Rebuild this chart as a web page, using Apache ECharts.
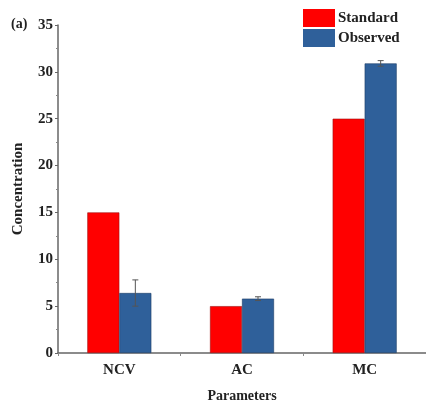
<!DOCTYPE html>
<html><head><meta charset="utf-8">
<script src="https://cdn.jsdelivr.net/npm/echarts@6/dist/echarts.min.js"></script>
<style>html,body{margin:0;padding:0;background:#fff}#c{width:426px;height:408px}</style>
</head><body><div id="c"></div>
<script>
const categories = ['NCV', 'AC', 'MC'];
const standardValues = [15, 5, 25];
const observedValues = [6.4, 5.8, 30.9];
const observedErrors = [1.4, 0.2, 0.3];
const yTicks = [0, 5, 10, 15, 20, 25, 30, 35];

const FONT = '"Liberation Serif", "Times New Roman", serif';
const chart = echarts.init(document.getElementById('c'));
const errData = observedValues.map((v, i) => [i, v - observedErrors[i], v + observedErrors[i]]);
chart.setOption({
  animation: false,
  textStyle: { fontFamily: FONT },
  graphic: [{ type: 'text', left: 11, top: 17, style: { text: '(a)', font: 'bold 14px ' + FONT, fill: '#222' } }],
  legend: {
    top: 9, left: 303, orient: 'vertical', itemWidth: 32, itemHeight: 18, itemGap: 2, padding: 0,
    icon: 'rect',
    itemStyle: { borderWidth: 0 },
    textStyle: { fontFamily: FONT, fontWeight: 'bold', fontSize: 15, color: '#222', padding: [0, 0, 0, -2] },
    data: ['Standard', 'Observed']
  },
  grid: { left: 58, right: -7, top: 25, bottom: 54 },
  xAxis: {
    type: 'category', data: categories,
    name: 'Parameters', nameLocation: 'middle', nameGap: 36,
    nameTextStyle: { fontFamily: FONT, fontWeight: 'bold', fontSize: 14, color: '#222' },
    axisLine: { lineStyle: { color: '#666', width: 1.5 } },
    axisTick: { show: true, length: 3, lineStyle: { color: '#888' } },
    axisLabel: { fontFamily: FONT, fontWeight: 'bold', fontSize: 15, color: '#222', margin: 10 }
  },
  yAxis: {
    type: 'value', min: yTicks[0], max: yTicks[yTicks.length - 1], interval: 5,
    name: 'Concentration', nameLocation: 'middle', nameGap: 32,
    nameTextStyle: { fontFamily: FONT, fontWeight: 'bold', fontSize: 15, color: '#222' },
    axisLine: { show: true, lineStyle: { color: '#666', width: 1.5 } },
    axisTick: { show: true, length: 3, lineStyle: { color: '#666' } },
    minorTick: { show: true, splitNumber: 2, length: 2, lineStyle: { color: '#888' } },
    splitLine: { show: false },
    axisLabel: { fontFamily: FONT, fontWeight: 'bold', fontSize: 15, color: '#222', margin: 5 }
  },
  series: [
    { name: 'Standard', type: 'bar', data: standardValues, barWidth: 32, barGap: '0%',
      itemStyle: { color: '#ff0000', borderColor: '#a01010', borderWidth: 0.6 } },
    { name: 'Observed', type: 'bar', data: observedValues, barWidth: 32, barGap: '0%',
      itemStyle: { color: '#2f609a', borderColor: '#1d3d66', borderWidth: 0.6 } },
    { name: 'err', type: 'custom', data: errData, z: 10,
      renderItem: function (params, api) {
        const i = api.value(0);
        const lo = api.coord([i, api.value(1)]);
        const hi = api.coord([i, api.value(2)]);
        const x = lo[0] + 16;
        const w = 3;
        const st = { stroke: '#555', lineWidth: 1 };
        return { type: 'group', children: [
          { type: 'line', shape: { x1: x, y1: lo[1], x2: x, y2: hi[1] }, style: st },
          { type: 'line', shape: { x1: x - w, y1: lo[1], x2: x + w, y2: lo[1] }, style: st },
          { type: 'line', shape: { x1: x - w, y1: hi[1], x2: x + w, y2: hi[1] }, style: st }
        ] };
      }
    }
  ]
});
</script></body></html>
